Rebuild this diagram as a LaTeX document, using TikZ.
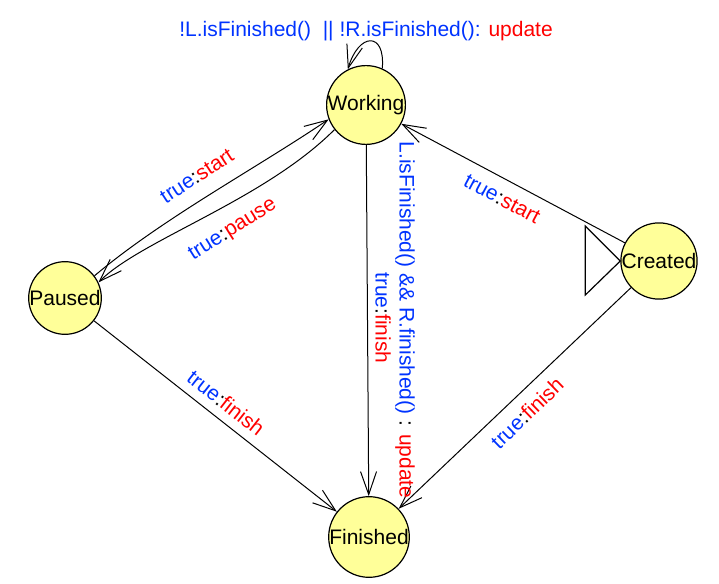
\documentclass[tikz,border=0pt]{standalone}
\usepackage{fontspec}
\setmainfont{Liberation Sans}
\usetikzlibrary{arrows.meta}

\definecolor{stfill}{RGB}{255,255,153}
\definecolor{gblue}{RGB}{0,51,255}
\definecolor{ared}{RGB}{255,0,0}
\newcommand{\trlab}[2]{\textcolor{gblue}{#1}:\textcolor{ared}{#2}}

\begin{document}
\begin{tikzpicture}[x=1pt,y=1pt,
    stnode/.style={circle,draw,line width=1.2pt,fill=stfill,minimum size=69pt,inner sep=0pt,font=\fontsize{21}{24}\selectfont},
    lab/.style={font=\fontsize{21}{24}\selectfont,inner sep=0pt},
    trans/.style={line width=1pt,-{Straight Barb[length=23pt,width=16pt]}}]
  \useasboundingbox (0,0) rectangle (719,583);

  % states
  \node[stnode] (W) at (366,478) {Working};
  \node[stnode] (P) at (65,285) {Paused};
  \node[stnode] (C) at (659,322) {Created};
  \node[stnode] (F) at (369,46) {Finished};

  % initial marker on Created
  \draw[line width=1.2pt] (C.west) -- ++(-35,35) -- ++(0,-69) -- cycle;

  % transitions
  \draw[trans] (W.66) .. controls +(85:38) and +(74:38) .. (W.117);
  \draw[trans] (P.37) .. controls +(40:90) and +(214:90) .. (W.201);
  \draw[trans] (W.218) .. controls +(225:100) and +(45:60) .. (P.25);
  \draw[trans] (C) -- (W);
  \draw[trans] (W) -- (F);
  \draw[trans] (P) -- (F);
  \draw[trans] (C) -- (F);

  % labels
  \node[lab] (lloop) at (366,552) {\textcolor{gblue}{!L.isFinished()\ \ || !R.isFinished():} \textcolor{ared}{update}};
  \node[lab,rotate=33] (lpws) at (197,407) {\trlab{true}{start}};
  \node[lab,rotate=32] (lwpp) at (233,353) {\trlab{true}{pause}};
  \node[lab,rotate=-28] (lcws) at (502,384) {\trlab{true}{start}};
  \node[lab,rotate=-90] (lwfu) at (405,263) {\textcolor{gblue}{L.isFinished() \&\& R.finished()} : \textcolor{ared}{update}};
  \node[lab,rotate=-90] (lwff) at (383,265) {\trlab{true}{finish}};
  \node[lab,rotate=-38] (lpff) at (226,180) {\trlab{true}{finish}};
  \node[lab,rotate=44] (lcff) at (527,170) {\trlab{true}{finish}};
\end{tikzpicture}
\end{document}
